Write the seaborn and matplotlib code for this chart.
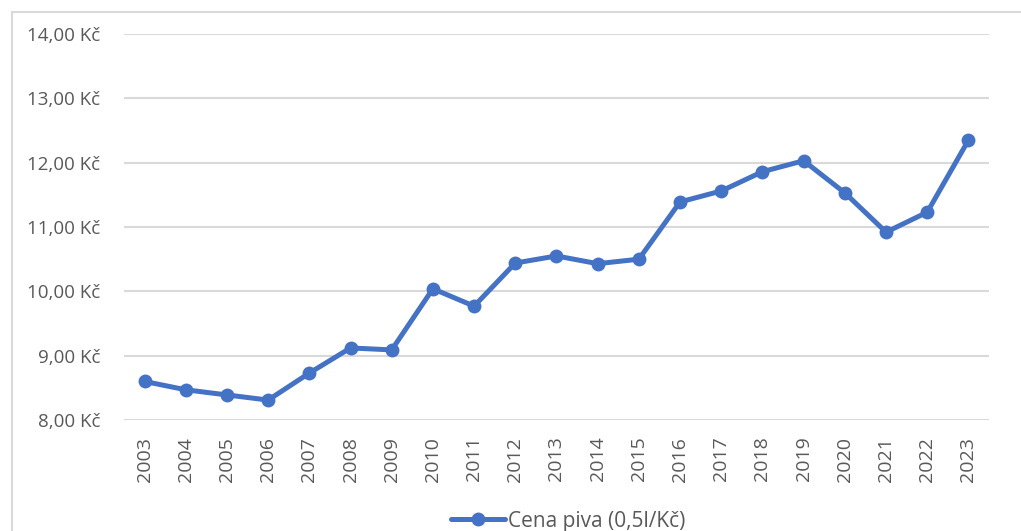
import pandas as pd
import seaborn as sns
import matplotlib.pyplot as plt
from matplotlib.patches import Rectangle
from matplotlib.ticker import FuncFormatter

# data
roky = list(range(2003, 2024))
cena = [8.60, 8.47, 8.39, 8.31, 8.73, 9.12, 9.09, 10.04, 9.77, 10.44, 10.55,
        10.43, 10.50, 11.39, 11.56, 11.86, 12.03, 11.53, 10.92, 11.23, 12.35]
popisek = "Cena piva (0,5l/Kč)"

df = pd.DataFrame({"Rok": roky, "Cena": cena})

sns.set_style("white")
plt.rcParams["font.family"] = ["Open Sans", "DejaVu Sans"]

fig = plt.figure(figsize=(10.21, 5.31), dpi=100)
ax = fig.add_axes([0.1214, 0.209, 0.8473, 0.727])

# outer chart frame (cut off at right/bottom like the screenshot)
fig.patches.append(Rectangle((12 / 1021, -0.1), 1.1, 1.1 - 12 / 531,
                             transform=fig.transFigure, fill=False,
                             edgecolor="#D9D9D9", linewidth=1.5))

sns.lineplot(data=df, x="Rok", y="Cena", ax=ax, color="#4472C4",
             linewidth=3.6, marker="o", markersize=10, markeredgewidth=0,
             label=popisek, legend=False)

ax.set_xlim(2002.5, 2023.5)
ax.set_ylim(8, 14)
ax.set_yticks(range(8, 15))
ax.set_xticks(roky)
ax.set_xticklabels([str(r) for r in roky], rotation=90)
ax.yaxis.set_major_formatter(FuncFormatter(lambda v, p: f"{v:.2f}".replace(".", ",") + " Kč"))
ax.grid(axis="y", color="#D9D9D9", linewidth=1.5)
ax.set_axisbelow(True)
for s in ax.spines.values():
    s.set_visible(False)
ax.tick_params(axis="y", length=0, pad=17, labelsize=13.5, labelcolor="#595959")
ax.tick_params(axis="x", length=0, pad=12, labelsize=14, labelcolor="#595959")
ax.set_xlabel("")
ax.set_ylabel("")

h, l = ax.get_legend_handles_labels()
fig.legend(h, l, loc="center", bbox_to_anchor=(568 / 1021, 1 - 521 / 531),
           frameon=False, fontsize=15, labelcolor="#595959",
           handlelength=2.6, handletextpad=0.15)

fig.savefig("out.png", dpi=100)
